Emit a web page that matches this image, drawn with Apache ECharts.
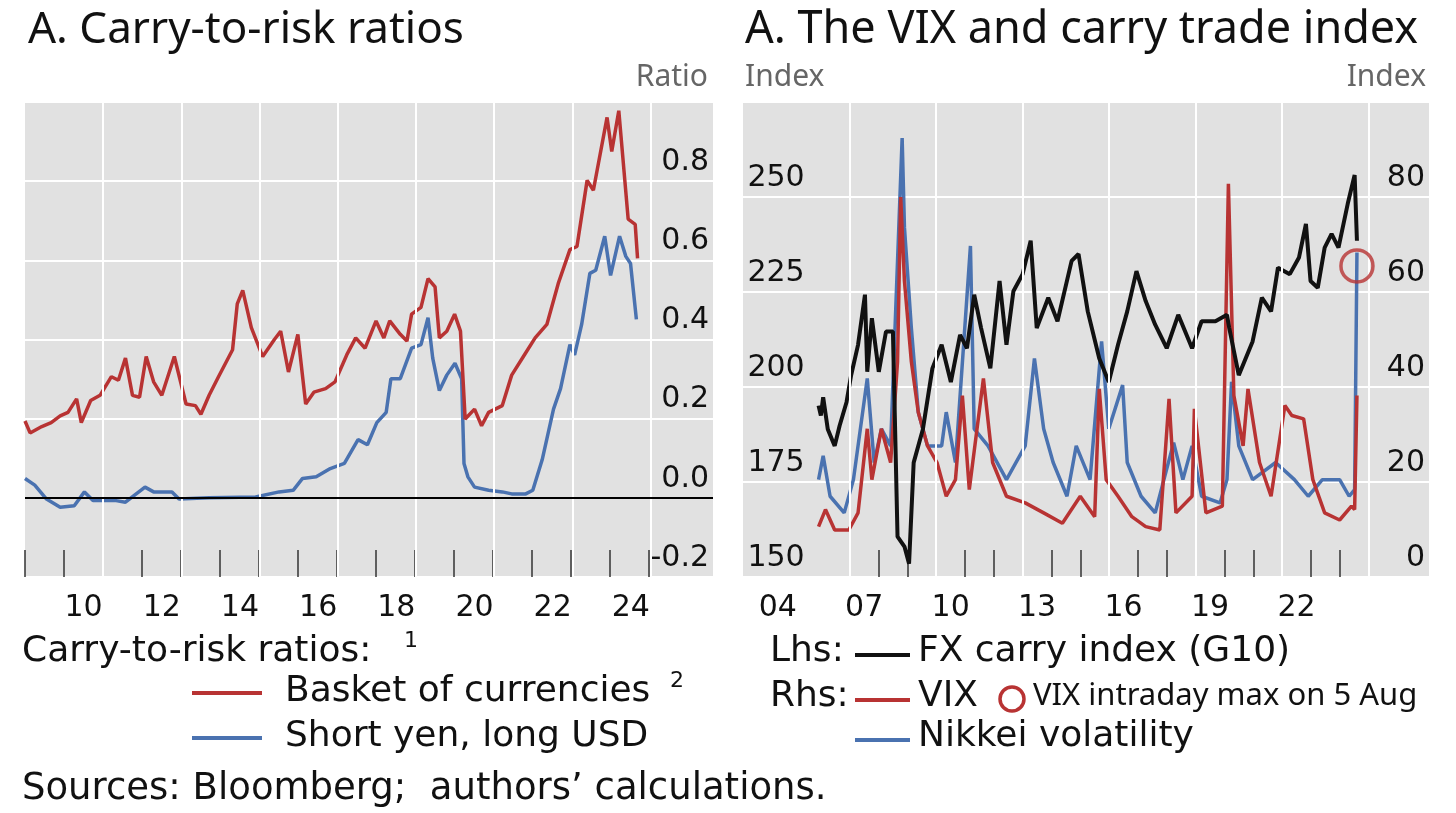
<!DOCTYPE html>
<html>
<head>
<meta charset="utf-8">
<script src="https://cdn.jsdelivr.net/npm/echarts@6/dist/echarts.min.js"></script>
<style>body{margin:0;background:#fff}#main{width:1456px;height:813px}</style>
</head>
<body>
<div id="main"></div>
<script>
// ---- panel 1: carry-to-risk ratios [year, ratio]
var basket = [[2009.0,0.194],[2009.13,0.164],[2009.43,0.18],[2009.67,0.19],[2009.9,0.207],[2010.1,0.216],[2010.32,0.25],[2010.44,0.19],[2010.68,0.246],[2010.92,0.259],[2011.21,0.306],[2011.39,0.297],[2011.57,0.353],[2011.75,0.259],[2011.93,0.254],[2012.1,0.357],[2012.29,0.293],[2012.5,0.259],[2012.82,0.357],[2013.12,0.237],[2013.36,0.233],[2013.5,0.211],[2013.71,0.259],[2013.95,0.306],[2014.31,0.374],[2014.43,0.49],[2014.57,0.524],[2014.79,0.43],[2015.08,0.357],[2015.38,0.4],[2015.54,0.421],[2015.74,0.318],[2015.98,0.413],[2016.18,0.237],[2016.39,0.267],[2016.69,0.276],[2016.93,0.293],[2017.23,0.361],[2017.46,0.404],[2017.7,0.378],[2017.98,0.447],[2018.18,0.404],[2018.33,0.447],[2018.6,0.413],[2018.77,0.396],[2018.89,0.464],[2019.13,0.481],[2019.31,0.554],[2019.49,0.533],[2019.6,0.404],[2019.79,0.421],[2019.99,0.464],[2020.14,0.421],[2020.26,0.199],[2020.5,0.224],[2020.68,0.182],[2020.86,0.216],[2021.21,0.233],[2021.45,0.31],[2021.75,0.357],[2022.05,0.404],[2022.35,0.438],[2022.64,0.541],[2022.94,0.627],[2023.12,0.635],[2023.38,0.802],[2023.54,0.777],[2023.89,0.961],[2024.01,0.875],[2024.19,0.978],[2024.43,0.704],[2024.61,0.691],[2024.67,0.605]];
var shortYen = [[2009.0,0.049],[2009.25,0.032],[2009.55,-0.003],[2009.9,-0.024],[2010.26,-0.02],[2010.52,0.015],[2010.74,-0.007],[2011.33,-0.007],[2011.57,-0.011],[2012.07,0.027],[2012.29,0.015],[2012.76,0.015],[2012.94,-0.003],[2013.71,0],[2014.9,0.002],[2015.5,0.015],[2015.86,0.019],[2016.1,0.049],[2016.45,0.053],[2016.81,0.074],[2017.17,0.087],[2017.52,0.147],[2017.76,0.134],[2018.0,0.19],[2018.24,0.216],[2018.36,0.301],[2018.6,0.301],[2018.89,0.378],[2019.13,0.387],[2019.31,0.455],[2019.43,0.353],[2019.6,0.271],[2019.79,0.31],[2020.0,0.34],[2020.17,0.301],[2020.23,0.087],[2020.33,0.053],[2020.5,0.027],[2020.86,0.019],[2021.21,0.015],[2021.45,0.01],[2021.81,0.01],[2021.99,0.019],[2022.23,0.096],[2022.52,0.224],[2022.7,0.276],[2022.94,0.387],[2023.06,0.361],[2023.24,0.438],[2023.45,0.567],[2023.6,0.575],[2023.83,0.661],[2023.98,0.562],[2024.21,0.661],[2024.37,0.61],[2024.49,0.592],[2024.64,0.451]];
var leftGridYears = [2011,2013,2015,2017,2019,2021,2023,2025];

// ---- panel 2: FX carry index (lhs), VIX and Nikkei volatility (rhs)
var fxCarry = [[2005.92,195.1],[2006.0,192.5],[2006.08,197.3],[2006.24,188.9],[2006.48,184.5],[2006.65,189.8],[2006.89,196],[2007.05,203.1],[2007.29,211.1],[2007.53,224.3],[2007.61,204],[2007.77,218.1],[2008.01,204],[2008.26,214.6],[2008.5,214.6],[2008.66,160.6],[2008.9,158],[2009.06,153.5],[2009.22,180.1],[2009.54,188.9],[2009.87,204.9],[2010.19,211.1],[2010.51,201.3],[2010.83,213.7],[2011.07,210.2],[2011.32,224.3],[2011.56,215.5],[2011.88,204.9],[2012.2,227.9],[2012.44,211.1],[2012.68,225.2],[2013.0,229.7],[2013.28,238.5],[2013.49,215.5],[2013.89,223.5],[2014.21,217.3],[2014.7,233.2],[2014.94,235],[2015.26,219.9],[2015.66,207.5],[2015.99,201.3],[2016.31,211.1],[2016.63,219.9],[2016.95,230.5],[2017.27,222.6],[2017.6,216.4],[2018.0,210.2],[2018.4,219],[2018.88,210.2],[2019.21,217.3],[2019.69,217.3],[2020.09,219],[2020.17,215.5],[2020.5,203.1],[2020.98,212],[2021.3,223.5],[2021.62,219.9],[2021.86,231.4],[2022.27,229.7],[2022.59,234.1],[2022.83,242.9],[2022.99,227.9],[2023.24,226.1],[2023.48,236.7],[2023.72,240.3],[2023.96,236.7],[2024.28,248.2],[2024.52,255.8],[2024.6,238.5]];
var vix = [[2005.92,10.6],[2006.16,14.2],[2006.48,9.9],[2006.97,9.9],[2007.29,13.5],[2007.61,31.2],[2007.77,20.5],[2008.1,31.2],[2008.42,24.1],[2008.66,45.3],[2008.77,80],[2008.9,62.3],[2009.14,45.3],[2009.38,34.7],[2009.7,27.6],[2010.03,24.1],[2010.35,17],[2010.67,20.5],[2010.91,38.2],[2011.15,18.4],[2011.64,41.8],[2011.96,24.1],[2012.44,17],[2013.09,15.6],[2013.73,13.5],[2014.38,11.3],[2015.0,17],[2015.5,12.7],[2015.66,39.6],[2015.9,20.5],[2016.31,17],[2016.79,12.7],[2017.27,10.6],[2017.76,9.9],[2018.08,37.5],[2018.32,13.5],[2018.88,17],[2018.96,35.4],[2019.36,13.5],[2019.93,14.9],[2020.14,82.8],[2020.33,38.2],[2020.65,27.6],[2020.82,39.6],[2021.22,24.1],[2021.62,17],[2022.1,36.1],[2022.34,34],[2022.75,33.3],[2023.07,20.5],[2023.48,13.5],[2024.0,12],[2024.41,14.9],[2024.52,14.2],[2024.6,38.2]];
var nikkeiVol = [[2005.92,20.5],[2006.08,25.5],[2006.32,17],[2006.81,13.5],[2007.13,20.5],[2007.61,41.8],[2007.85,24.1],[2008.1,31.2],[2008.42,27.6],[2008.82,92.4],[2008.9,73.6],[2009.14,52.4],[2009.38,34.7],[2009.7,27.6],[2010.19,27.6],[2010.35,34.7],[2010.67,24.1],[2011.19,69.7],[2011.32,31.2],[2011.8,27.6],[2012.44,20.5],[2013.09,27.6],[2013.41,46],[2013.73,31.2],[2014.06,24.1],[2014.54,17],[2014.86,27.6],[2015.34,20.5],[2015.74,49.6],[2015.99,31.2],[2016.47,40.4],[2016.63,24.1],[2017.11,17],[2017.6,13.5],[2018.24,28.3],[2018.56,20.5],[2018.88,27.6],[2019.21,17],[2019.85,15.6],[2020.09,20.5],[2020.25,41.1],[2020.5,27.6],[2020.98,20.5],[2021.78,24.1],[2022.43,20.5],[2022.91,17],[2023.4,20.5],[2024.0,20.5],[2024.33,17],[2024.52,18.4],[2024.6,68.3]];
var vixIntradayMax = [[2024.6,65.5]];
var rightGridYears = [2007,2010,2013,2016,2019,2022,2025];

var RED = '#b83333', BLUE = '#4a72b0', BLACK = '#111', GREY = '#e1e1e1';
var FONT = 'Noto Sans', WIDE = 'DejaVu Sans';

function vGrid(years) {
    return {
        silent: true, symbol: 'none', label: {show: false},
        lineStyle: {color: '#fff', width: 2, type: 'solid'},
        data: years.map(function (y) { return {xAxis: y}; })
    };
}
var tickLabel = {color: '#111', fontSize: 30, fontFamily: WIDE};
function yr2(v) { return String(v % 100).padStart(2, '0'); }
// tick-only axes (ticks run only over the year span shown in the source)
function tickAxis(gi, mn, mx) {
    return {gridIndex: gi, type: 'value', min: mn, max: mx, interval: 1,
        axisLine: {show: false}, splitLine: {show: false}, axisLabel: {show: false},
        axisTick: {inside: true, length: 27, lineStyle: {color: '#333', width: 1.5}}};
}
function hiddenY(gi) {
    return {gridIndex: gi, type: 'value', show: false, min: 0, max: 1};
}

var myChart = echarts.init(document.getElementById('main'));
var option = {
    animation: false,
    textStyle: {fontFamily: FONT},
    grid: [
        {left: 25, right: 743, top: 102, bottom: 236, show: true, backgroundColor: GREY, borderWidth: 0},
        {left: 734.4, right: 27, top: 102, bottom: 236, show: true, backgroundColor: GREY, borderWidth: 0},
        {left: 25, width: 624, top: 550, bottom: 236},
        {left: 849.6, width: 519, top: 550, bottom: 236}
    ],
    xAxis: [
        {gridIndex: 0, type: 'value', min: 2009, max: 2026.6, interval: 1,
            axisLine: {show: false, onZero: false}, splitLine: {show: false}, axisTick: {show: false},
            axisLabel: Object.assign({}, tickLabel, {margin: 16, padding: [0, 0, 0, 39],
                formatter: function (v) { return (v % 2 === 0 && v < 2025) ? yr2(v) : ''; }})},
        {gridIndex: 1, type: 'value', min: 2003, max: 2027.1, interval: 1,
            axisLine: {show: false, onZero: false}, splitLine: {show: false}, axisTick: {show: false},
            axisLabel: Object.assign({}, tickLabel, {margin: 16, padding: [0, 0, 0, 29],
                formatter: function (v) { return (v % 3 === 0 && v < 2025) ? yr2(v) : ''; }})},
        tickAxis(2, 2009, 2025),
        tickAxis(3, 2007, 2025)
    ],
    yAxis: [
        {gridIndex: 0, type: 'value', position: 'right', min: -0.2, max: 1.0, interval: 0.2,
            axisLine: {show: false}, axisTick: {show: false},
            splitLine: {lineStyle: {color: '#fff', width: 2}},
            axisLabel: Object.assign({}, tickLabel, {inside: true, margin: 4, verticalAlign: 'bottom', padding: [0, 0, 4, 0],
                formatter: function (v) { return v > 0.95 ? '' : v.toFixed(1); }})},
        {gridIndex: 1, type: 'value', position: 'left', min: 150, max: 275, interval: 25,
            axisLine: {show: false}, axisTick: {show: false},
            splitLine: {lineStyle: {color: '#fff', width: 2}},
            axisLabel: Object.assign({}, tickLabel, {inside: true, margin: 13, verticalAlign: 'bottom', padding: [0, 0, 4, 0],
                formatter: function (v) { return v > 260 ? '' : v; }})},
        {gridIndex: 1, type: 'value', position: 'right', min: 0, max: 100, interval: 20,
            axisLine: {show: false}, axisTick: {show: false}, splitLine: {show: false},
            axisLabel: Object.assign({}, tickLabel, {inside: true, margin: 4, verticalAlign: 'bottom', padding: [0, 0, 4, 0],
                formatter: function (v) { return v > 90 ? '' : v; }})},
        hiddenY(2),
        hiddenY(3)
    ],
    series: [
        {type: 'line', xAxisIndex: 0, yAxisIndex: 0, data: shortYen, showSymbol: false,
            lineStyle: {color: BLUE, width: 3.5}, markLine: vGrid(leftGridYears), z: 2},
        {type: 'line', xAxisIndex: 0, yAxisIndex: 0, data: basket, showSymbol: false,
            lineStyle: {color: RED, width: 3.5}, z: 3,
            markLine: {silent: true, symbol: 'none', label: {show: false},
                lineStyle: {color: '#000', width: 2, type: 'solid'}, data: [{yAxis: 0}]}},
        {type: 'line', xAxisIndex: 1, yAxisIndex: 2, data: nikkeiVol, showSymbol: false,
            lineStyle: {color: BLUE, width: 3.5}, markLine: vGrid(rightGridYears), z: 2},
        {type: 'line', xAxisIndex: 1, yAxisIndex: 2, data: vix, showSymbol: false,
            lineStyle: {color: RED, width: 3.5}, z: 3},
        {type: 'line', xAxisIndex: 1, yAxisIndex: 1, data: fxCarry, showSymbol: false,
            lineStyle: {color: BLACK, width: 4}, z: 4},
        {type: 'scatter', xAxisIndex: 1, yAxisIndex: 2, data: vixIntradayMax, symbol: 'circle', symbolSize: 32,
            itemStyle: {color: 'rgba(0,0,0,0)', borderColor: RED, borderWidth: 3.5}, z: 5}
    ],
    graphic: [
        // white gap between the panels
        {type: 'rect', shape: {x: 713, y: 100, width: 30, height: 480}, style: {fill: '#fff'}, z: 100},
        {type: 'text', left: 28, top: 8, style: {text: 'A. Carry-to-risk ratios', fontSize: 44, fontFamily: FONT, fill: '#111'}},
        {type: 'text', left: 745, top: 8, style: {text: 'A. The VIX and carry trade index', fontSize: 45, fontFamily: FONT, fill: '#111'}},
        {type: 'text', right: 748, top: 62, style: {text: 'Ratio', fontSize: 30, fontFamily: FONT, fill: '#666'}},
        {type: 'text', left: 745, top: 62, style: {text: 'Index', fontSize: 30, fontFamily: FONT, fill: '#666'}},
        {type: 'text', right: 30, top: 62, style: {text: 'Index', fontSize: 30, fontFamily: FONT, fill: '#666'}},
        // left legend
        {type: 'text', left: 22, top: 634, style: {text: 'Carry-to-risk ratios:', fontSize: 36, fontFamily: WIDE, fill: '#111'}},
        {type: 'text', left: 404, top: 630, style: {text: '1', fontSize: 22, fontFamily: WIDE, fill: '#111'}},
        {type: 'line', shape: {x1: 192, y1: 693, x2: 262, y2: 693}, style: {stroke: RED, lineWidth: 4}},
        {type: 'text', left: 285, top: 674, style: {text: 'Basket of currencies', fontSize: 36, fontFamily: WIDE, fill: '#111'}},
        {type: 'text', left: 670, top: 670, style: {text: '2', fontSize: 22, fontFamily: WIDE, fill: '#111'}},
        {type: 'line', shape: {x1: 192, y1: 738, x2: 262, y2: 738}, style: {stroke: BLUE, lineWidth: 4}},
        {type: 'text', left: 285, top: 719, style: {text: 'Short yen, long USD', fontSize: 36, fontFamily: WIDE, fill: '#111'}},
        // right legend
        {type: 'text', left: 770, top: 634, style: {text: 'Lhs:', fontSize: 36, fontFamily: WIDE, fill: '#111'}},
        {type: 'line', shape: {x1: 855, y1: 655, x2: 910, y2: 655}, style: {stroke: BLACK, lineWidth: 4}},
        {type: 'text', left: 918, top: 634, style: {text: 'FX carry index (G10)', fontSize: 36, fontFamily: WIDE, fill: '#111'}},
        {type: 'text', left: 770, top: 679, style: {text: 'Rhs:', fontSize: 36, fontFamily: WIDE, fill: '#111'}},
        {type: 'line', shape: {x1: 855, y1: 700, x2: 910, y2: 700}, style: {stroke: RED, lineWidth: 4}},
        {type: 'text', left: 918, top: 679, style: {text: 'VIX', fontSize: 36, fontFamily: WIDE, fill: '#111'}},
        {type: 'circle', shape: {cx: 1012, cy: 699, r: 12}, style: {fill: 'none', stroke: RED, lineWidth: 3.5}},
        {type: 'text', left: 1033, top: 681, style: {text: 'VIX intraday max on 5 Aug', fontSize: 31, fontFamily: FONT, fill: '#111'}},
        {type: 'line', shape: {x1: 855, y1: 740, x2: 910, y2: 740}, style: {stroke: BLUE, lineWidth: 4}},
        {type: 'text', left: 918, top: 719, style: {text: 'Nikkei volatility', fontSize: 36, fontFamily: WIDE, fill: '#111'}},
        {type: 'text', left: 22, top: 771, style: {text: 'Sources: Bloomberg;  authors\u2019 calculations.', fontSize: 37, fontFamily: WIDE, fill: '#111'}}
    ]
};
myChart.setOption(option);
</script>
</body>
</html>
